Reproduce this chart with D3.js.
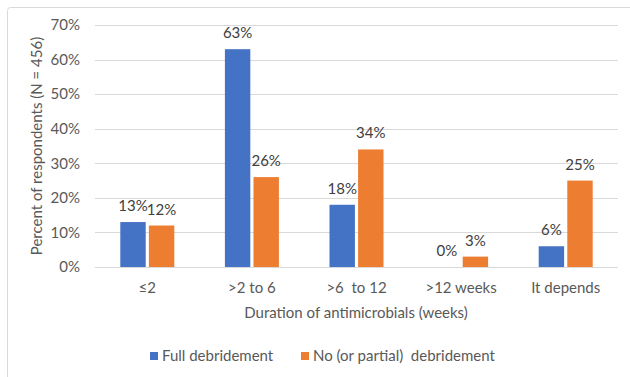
<!DOCTYPE html>
<html>
<head>
<meta charset="utf-8">
<script src="https://cdn.jsdelivr.net/npm/d3@7/dist/d3.min.js"></script>
<style>
  html, body { margin: 0; padding: 0; background: #fff; }
  svg { display: block; font-family: Lato, "Liberation Sans", Arial, sans-serif; }
  svg text { white-space: pre; }
</style>
</head>
<body>
<svg id="chart" width="630" height="377"></svg>
<script>
const categories = ["\u22642", ">2 to 6", ">6  to 12", ">12 weeks", "It depends"];
const seriesNames = ["Full debridement", "No (or partial)  debridement"];
const fullDebridement = [13, 63, 18, 0, 6];
const partialDebridement = [12, 26, 34, 3, 25];
const yTicks = [0, 10, 20, 30, 40, 50, 60, 70];
const colors = ["#4472C4", "#ED7D31"];

const series = [fullDebridement, partialDebridement];
const rows = categories.map((c, i) => ({ cat: c, vals: series.map(s => s[i]) }));

const svg = d3.select("#chart");
const x0 = 95, x1 = 618, yTop = 25, yBot = 267;
const FS = 15;

// chart frame
svg.append("rect")
  .attr("x", 7.5).attr("y", 7.5)
  .attr("width", 640).attr("height", 400)
  .attr("rx", 3)
  .attr("fill", "none").attr("stroke", "#d9d9d9").attr("stroke-width", 1);

const x = d3.scaleBand().domain(categories).range([x0, x1]);
const y = d3.scaleLinear().domain([0, 70]).range([yBot, yTop]);

// grid lines
svg.append("g")
  .selectAll("line").data(yTicks).join("line")
  .attr("x1", x0).attr("x2", x1)
  .attr("y1", d => Math.round(y(d)) + 0.5).attr("y2", d => Math.round(y(d)) + 0.5)
  .attr("stroke", "#d9d9d9").attr("stroke-width", 1);

// y axis labels
const yAxis = d3.axisLeft(y).tickValues(yTicks).tickFormat(d => d + "%").tickSize(0).tickPadding(0);
const gy = svg.append("g").attr("transform", `translate(80,0)`).call(yAxis);
gy.attr("font-family", null);
gy.select(".domain").remove();
gy.selectAll("text").attr("fill", "#595959").attr("font-size", FS);

// x axis labels
const xAxis = d3.axisBottom(x).tickSize(0).tickPadding(0);
const gx = svg.append("g").attr("transform", `translate(0,${yBot + 15})`).call(xAxis);
gx.attr("font-family", null);
gx.select(".domain").remove();
gx.selectAll("text").attr("fill", "#595959").attr("font-size", FS).attr("dy", "0.71em");

// bars
const barW = 24, gap = 6;
const xs = d3.scaleBand().domain([0, 1]).range([0, barW * 2 + gap]).paddingInner(gap / (barW * 2 + gap));
const groups = svg.append("g").selectAll("g").data(rows).join("g")
  .attr("transform", d => `translate(${x(d.cat) + x.bandwidth() / 2 - (barW * 2 + gap) / 2},0)`);

groups.selectAll("rect").data(d => d.vals).join("rect")
  .attr("x", (d, i) => xs(i))
  .attr("width", xs.bandwidth())
  .attr("y", d => y(d))
  .attr("height", d => yBot - y(d))
  .attr("fill", (d, i) => colors[i]);

groups.selectAll("text").data(d => d.vals).join("text")
  .attr("x", (d, i) => xs(i) + xs.bandwidth() / 2)
  .attr("y", d => y(d) - 11)
  .attr("text-anchor", "middle")
  .attr("fill", "#404040").attr("font-size", FS)
  .text(d => d + "%");

// axis titles
svg.append("text")
  .attr("x", 356).attr("y", 318)
  .attr("text-anchor", "middle").attr("fill", "#595959").attr("font-size", FS)
  .text("Duration of antimicrobials (weeks)");

svg.append("text")
  .attr("transform", `translate(42,${(yTop + yBot) / 2}) rotate(-90)`)
  .attr("text-anchor", "middle").attr("fill", "#595959").attr("font-size", FS)
  .text("Percent of respondents (N = 456)");

// legend
const legendItems = [{ name: seriesNames[0], c: colors[0], x: 150 }, { name: seriesNames[1], c: colors[1], x: 301 }];
const lg = svg.append("g").selectAll("g").data(legendItems).join("g")
  .attr("transform", d => `translate(${d.x},352)`);
lg.append("rect").attr("width", 8).attr("height", 8).attr("fill", d => d.c);
lg.append("text").attr("x", 12).attr("y", 9)
  .attr("fill", "#595959").attr("font-size", FS)
  .text(d => d.name);
</script>
</body>
</html>
